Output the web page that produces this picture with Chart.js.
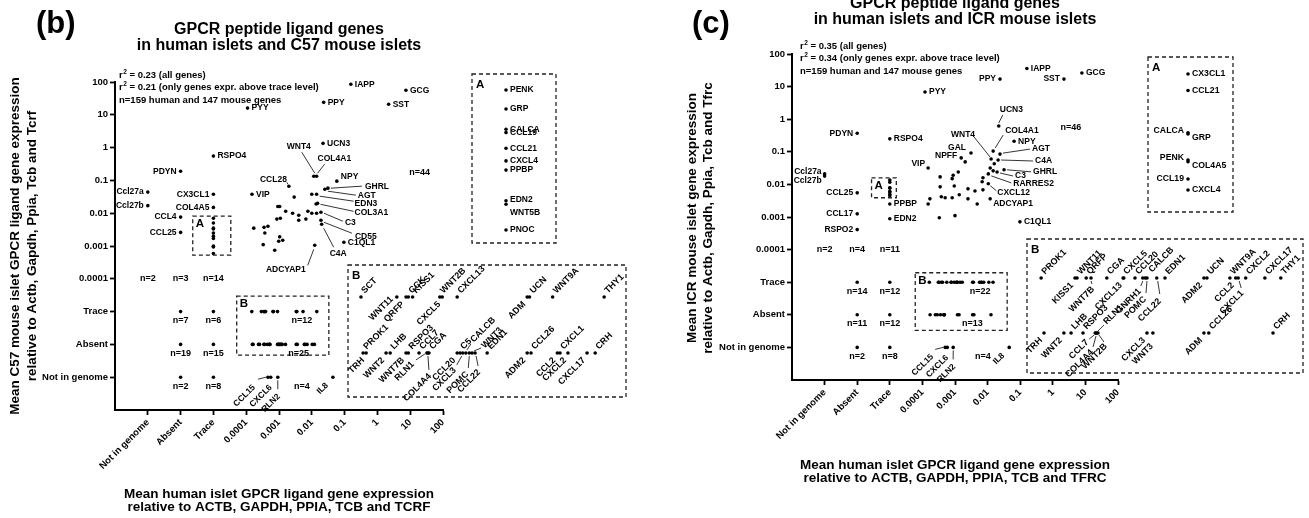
<!DOCTYPE html>
<html>
<head>
<meta charset="utf-8">
<title>GPCR peptide ligand genes in human and mouse islets</title>
<script src="https://cdn.jsdelivr.net/npm/chart.js@4.4.1/dist/chart.umd.min.js"></script>
<style>
  html, body { margin: 0; padding: 0; background: #fff; }
  #fig { position: relative; width: 1309px; height: 518px; overflow: hidden; background: #fff; }
  #fig canvas { position: absolute; left: 0; top: 0; }
</style>
</head>
<body>
<div id="fig">
  <canvas id="c57Main" width="1309" height="518"></canvas>
  <canvas id="c57InsetA" width="1309" height="518"></canvas>
  <canvas id="c57InsetB" width="1309" height="518"></canvas>
  <canvas id="icrMain" width="1309" height="518"></canvas>
  <canvas id="icrInsetA" width="1309" height="518"></canvas>
  <canvas id="icrInsetB" width="1309" height="518"></canvas>
</div>
<script>
// ---------------------------------------------------------------
// Shared axis: three categorical levels followed by log10 decades
// ---------------------------------------------------------------
const axisTickLabels = ['Not in genome', 'Absent', 'Trace', '0.0001', '0.001', '0.01', '0.1', '1', '10', '100'];
const categoryLevels = { 'Not in genome': 0, 'Absent': 1, 'Trace': 2 };
function axisPos(v) { return typeof v === 'string' ? categoryLevels[v] : 7 + Math.log10(v); }

// ---------------------------------------------------------------
// (b) human islets vs C57 mouse islets
// ---------------------------------------------------------------
const c57Genes = ['IAPP', 'GCG', 'PPY', 'SST', 'PYY', 'UCN3', 'RSPO4', 'PDYN', 'Ccl27a', 'Ccl27b',
  'CX3CL1', 'COL4A5', 'CCL4', 'CCL25', 'VIP', 'CCL28', 'WNT4', 'COL4A1', 'NPY', 'GHRL',
  'AGT', 'EDN3', 'COL3A1', 'C3', 'CD55', 'C4A', 'C1QL1', 'ADCYAP1', 'CCL15', 'CXCL6', 'RLN2', 'IL8'];
const c57Human = [0.155, 7.4, 0.023, 2.2, 1.1e-4, 0.022, 'Trace', 'Absent', 'Not in genome', 'Not in genome',
  'Trace', 'Trace', 'Absent', 'Absent', 1.5e-4, 0.002, 0.0115, 0.014, 0.058, 0.031,
  0.025, 0.014, 0.015, 0.019, 0.019, 0.02, 0.095, 0.0123, 4.6e-4, 5.6e-4, 9.2e-4, 0.044];
const c57Mouse = [85, 56, 24, 21, 16, 1.35, 0.55, 0.19, 0.044, 0.017,
  0.038, 0.015, 0.0076, 0.0026, 0.038, 0.066, 0.134, 0.134, 0.095, 0.058,
  0.054, 0.038, 0.02, 0.0107, 0.0061, 0.0046, 0.0013, 0.00105, 'Not in genome', 'Not in genome', 'Not in genome', 'Not in genome'];
// unlabelled genes of the central cluster
const c57OtherHuman = [0.01, 0.0135, 9.2e-4, 1.05e-3, 1.6e-3, 2.6e-3, 4e-3, 4e-3, 7.6e-3, 0.01, 0.014, 6.6e-3,
  8.6e-4, 1.1e-3, 1.7e-4, 3.5e-4, 4.6e-4, 3.7e-4, 1.05e-3, 1.3e-3, 9.8e-4, 3.3e-4, 7.4e-4, 2.9e-3];
const c57OtherMouse = [0.038, 0.019, 0.016, 0.016, 0.0115, 0.01, 0.0087, 0.0061, 0.0115, 0.01, 0.01, 0.0066,
  0.0066, 0.007, 0.0035, 0.0037, 0.004, 0.0025, 0.0019, 0.0015, 0.0014, 0.0011, 0.00074, 0.031];
// one marker per group of genes sharing a category in both species
const c57GroupHuman = ['Absent', 'Trace', 'Absent', 'Trace', 'Absent', 'Trace'];
const c57GroupMouse = ['Trace', 'Trace', 'Absent', 'Absent', 'Not in genome', 'Not in genome'];
const c57GroupN = [7, 6, 19, 15, 2, 8];
// gene counts written in the field
const c57CountHuman = ['Not in genome', 'Absent', 'Trace', 19.5, 5e-3, 4e-3, 5e-3];
const c57CountMouse = [1e-4, 1e-4, 1e-4, 0.18, 'Trace', 'Absent', 'Not in genome'];
const c57CountN = [2, 3, 14, 44, 12, 25, 4];
// box A: human trace level, mouse 0.0005-0.01
const c57BoxAGenes = ['PENK', 'GRP', 'CALCA', 'CCL19', 'CCL21', 'CXCL4', 'PPBP', 'EDN2', 'WNT5B', 'PNOC'];
const c57BoxAMouse = [0.007, 0.005, 0.0035, 0.0033, 0.0025, 0.002, 0.0017, 0.00099, 0.00093, 0.00059];
// box B: mouse trace / absent, human 0.0001-0.02
const c57BoxBGenes = ['SCT', 'WNT11', 'QRFP', 'CCK', 'KISS1', 'WNT2B', 'CXCL5', 'CXCL13', 'ADM', 'UCN', 'WNT9A', 'THY1',
  'PROK1', 'TRH', 'WNT2', 'LHB', 'WNT7B', 'RSPO3', 'CCL7', 'RLN1', 'COL4A4', 'CGA', 'CCL20', 'C5', 'CXCL3',
  'CALCB', 'POMC', 'WNT3', 'CCL22', 'EDN1', 'ADM2', 'CCL26', 'CCL2', 'CXCL1', 'CXCL2', 'CXCL17', 'CRH'];
const c57BoxBHuman = [1.48e-4, 2.9e-4, 3.45e-4, 3.6e-4, 3.9e-4, 6.5e-4, 6.8e-4, 9.0e-4, 3.35e-3, 3.5e-3, 5.4e-3, 0.0142,
  1.54e-4, 1.63e-4, 2.37e-4, 2.56e-4, 3.45e-4, 3.6e-4, 4.4e-4, 5.1e-4, 5.2e-4, 5.3e-4, 9.0e-4, 9.5e-4, 1.0e-3,
  1.06e-3, 1.13e-3, 1.19e-3, 1.26e-3, 1.58e-3, 3.35e-3, 3.6e-3, 5.9e-3, 6.2e-3, 7.2e-3, 0.0103, 0.012];
const c57BoxBMouse = [...Array(12).fill('Trace'), ...Array(25).fill('Absent')];
const c57R2 = [0.23, 0.21];

// ---------------------------------------------------------------
// (c) human islets vs ICR mouse islets
// ---------------------------------------------------------------
const icrGenes = ['IAPP', 'GCG', 'PPY', 'SST', 'PYY', 'UCN3', 'COL4A1', 'NPY', 'WNT4', 'GAL', 'NPFF', 'VIP',
  'AGT', 'C4A', 'GHRL', 'C3', 'RARRES2', 'CXCL12', 'ADCYAP1', 'C1QL1', 'PDYN', 'RSPO4', 'Ccl27a', 'Ccl27b',
  'CCL25', 'CCL17', 'RSPO2', 'PPBP', 'EDN2', 'CCL15', 'CXCL6', 'RLN2', 'IL8'];
const icrHuman = [0.16, 7.8, 0.024, 2.2, 1.2e-4, 0.022, 0.0148, 0.065, 0.0128, 3.1e-3, 1.55e-3, 1.5e-4,
  0.024, 0.021, 0.032, 0.0195, 0.0105, 0.0105, 0.012, 0.098, 'Absent', 'Trace', 'Not in genome', 'Not in genome',
  'Absent', 'Absent', 'Absent', 'Trace', 'Trace', 5e-4, 5.8e-4, 8.8e-4, 0.046];
const icrMouse = [36, 26, 17, 17, 6.8, 0.62, 0.105, 0.21, 0.06, 0.092, 0.065, 0.032,
  0.085, 0.056, 0.028, 0.024, 0.021, 0.0105, 3.6e-3, 7.1e-4, 0.37, 0.25, 0.021, 0.018,
  0.0055, 0.00125, 4.1e-4, 0.0025, 8.8e-4, 'Not in genome', 'Not in genome', 'Not in genome', 'Not in genome'];
const icrOtherHuman = [3.5e-4, 3.5e-4, 8.2e-4, 8.8e-4, 1.26e-3, 9.5e-4, 1.7e-4, 1.5e-4, 3.8e-4, 5e-4, 8.2e-4, 1.35e-3,
  2.5e-3, 4.8e-3, 3.3e-4, 1e-3, 4.1e-3, 2.5e-3, 7.2e-3, 7.2e-3, 0.0148, 0.016, 2.05e-3, 6.8e-3, 0.012];
const icrOtherMouse = [0.017, 8.4e-3, 0.015, 0.019, 0.024, 8.9e-3, 3.6e-3, 2.5e-3, 4.2e-3, 3.9e-3, 3.9e-3, 4.8e-3,
  3.6e-3, 2.5e-3, 9.5e-4, 1.1e-3, 6.3e-3, 7.3e-3, 6.8e-3, 0.016, 0.026, 0.043, 0.049, 0.012, 0.032];
const icrGroupHuman = ['Absent', 'Trace', 'Absent', 'Trace', 'Absent', 'Trace'];
const icrGroupMouse = ['Trace', 'Trace', 'Absent', 'Absent', 'Not in genome', 'Not in genome'];
const icrGroupN = [14, 12, 11, 12, 2, 8];
const icrCountHuman = ['Not in genome', 'Absent', 'Trace', 3.6, 5.9e-3, 3.4e-3, 7.2e-3];
const icrCountMouse = [1e-4, 1e-4, 1e-4, 0.57, 'Trace', 'Absent', 'Not in genome'];
const icrCountN = [2, 4, 11, 46, 22, 13, 4];
const icrBoxAGenes = ['CX3CL1', 'CCL21', 'CALCA', 'GRP', 'PENK', 'COL4A5', 'CCL19', 'CXCL4'];
const icrBoxAMouse = [0.0137, 0.0117, 0.0078, 0.0077, 0.006, 0.0059, 0.005, 0.0045];
const icrBoxBGenes = ['PROK1', 'KISS1', 'WNT11', 'QRFP', 'WNT7B', 'CGA', 'CXCL5', 'CXCL13', 'CCL20', 'GNRH1', 'CALCB',
  'POMC', 'CCL22', 'EDN1', 'ADM2', 'UCN', 'WNT9A', 'CCL2', 'CXCL1', 'CXCL2', 'CXCL17', 'THY1',
  'TRH', 'WNT2', 'LHB', 'RSPO3', 'CCL7', 'COL4A4', 'RLN1', 'WNT2B', 'CXCL3', 'WNT3', 'ADM', 'CCL26', 'CRH'];
const icrBoxBHuman = [1.63e-4, 3.08e-4, 3.2e-4, 3.8e-4, 4.16e-4, 5.6e-4, 7.6e-4, 7.7e-4, 9.5e-4, 1.1e-3, 1.15e-3,
  1.19e-3, 1.43e-3, 1.67e-3, 3.47e-3, 3.67e-3, 5.65e-3, 6.3e-3, 6.6e-3, 7.6e-3, 0.0109, 0.0147,
  1.72e-4, 2.5e-4, 2.86e-4, 3.58e-4, 4.5e-4, 4.57e-4, 4.65e-4, 4.74e-4, 1.19e-3, 1.33e-3, 3.47e-3, 3.8e-3, 0.0127];
const icrBoxBMouse = [...Array(22).fill('Trace'), ...Array(13).fill('Absent')];
const icrR2 = [0.35, 0.34];

const nHumanGenes = 159, nMouseGenes = 147;

// ---------------------------------------------------------------
// Drawing setup
// ---------------------------------------------------------------
const W = 1309, H = 518;
const FAM = '"Liberation Sans", Arial, Helvetica, sans-serif';
const bold = s => `bold ${s}px ${FAM}`;
Chart.defaults.font.family = FAM;
Chart.defaults.font.weight = 'bold';
Chart.defaults.color = '#000';

const dotStyle = { pointRadius: 1.8, pointHoverRadius: 1.8, pointBackgroundColor: '#000', pointBorderWidth: 0, showLine: false, clip: false };

// label placement around a marker
function drawTag(ctx, px, py, text, s) {
  s = s || {};
  const side = s.side || 'r';
  const def = { r: [4, 0, 'left', 0], l: [-4, 0, 'right', 0], up: [2, -5, 'left', -Math.PI / 4], down: [-3, 6, 'right', -Math.PI / 4] }[side];
  const ax = px + (s.dx ?? def[0]), ay = py + (s.dy ?? def[1]);
  if (s.lead) {
    ctx.beginPath(); ctx.lineWidth = 0.8;
    ctx.moveTo(px + s.lead[0], py + s.lead[1]); ctx.lineTo(px + s.lead[2], py + s.lead[3]); ctx.stroke();
  }
  ctx.save(); ctx.translate(ax, ay); ctx.rotate(def[3]);
  ctx.textAlign = s.align || def[2]; ctx.textBaseline = 'middle';
  ctx.fillText(text, 0, 0); ctx.restore();
}

function dashedRect(ctx, x0, y0, x1, y1) {
  ctx.save(); ctx.setLineDash([4, 3]); ctx.lineWidth = 1.3; ctx.strokeStyle = '#222';
  ctx.strokeRect(x0, y0, x1 - x0, y1 - y0); ctx.restore();
}

function statsLine(ctx, x, y, r2, rest) {
  ctx.textAlign = 'left'; ctx.textBaseline = 'alphabetic';
  ctx.font = bold(9.5); ctx.fillText('r', x, y);
  const w1 = ctx.measureText('r').width;
  ctx.font = bold(6.5); ctx.fillText('2', x + w1 + 0.5, y - 4);
  const w2 = ctx.measureText('2').width;
  ctx.font = bold(9.5); ctx.fillText(' = ' + r2 + ' ' + rest, x + w1 + w2 + 0.5, y);
}

function pts(xs, ys) { return xs.map((h, i) => ({ x: axisPos(h), y: axisPos(ys[i]) })); }

function mainPanel(id, P) {
  const a = P.frame;
  const tickFont = { family: FAM, size: 9.5, weight: 'bold' };
  const common = {
    type: 'linear', min: -1, max: 9,
    afterBuildTicks: s => { s.ticks = axisTickLabels.map((_, i) => ({ value: i })); },
    grid: { drawOnChartArea: false, drawTicks: true, tickLength: 5, tickWidth: 1.8, tickColor: '#000' },
    border: { display: true, color: '#000', width: 2 }
  };
  const decor = {
    id: 'decor_' + id,
    afterDraw(chart) {
      const { ctx, chartArea: ca, scales: { x, y } } = chart;
      const X = p => x.getPixelForValue(p), Y = p => y.getPixelForValue(p);
      const cx = (ca.left + ca.right) / 2;
      ctx.save();
      ctx.fillStyle = '#000'; ctx.strokeStyle = '#000';
      // panel letter and title
      ctx.font = bold(31); ctx.textAlign = 'left'; ctx.textBaseline = 'alphabetic';
      ctx.fillText(P.letter, P.letterAt[0], P.letterAt[1]);
      ctx.font = bold(16); ctx.textAlign = 'center';
      P.title.forEach((t, i) => ctx.fillText(t, cx, P.titleBase + i * 16));
      // correlation notes
      statsLine(ctx, P.statsAt[0], P.statsAt[1], P.r2[0].toFixed(2), '(all genes)');
      statsLine(ctx, P.statsAt[0], P.statsAt[1] + 12.5, P.r2[1].toFixed(2), '(only genes expr. above trace level)');
      ctx.font = bold(9.5);
      ctx.fillText('n=' + nHumanGenes + ' human and ' + nMouseGenes + ' mouse genes', P.statsAt[0], P.statsAt[1] + 25);
      // axis titles
      ctx.font = bold(13.5); ctx.textAlign = 'center'; ctx.textBaseline = 'middle';
      P.xTitle.forEach((t, i) => ctx.fillText(t, cx, P.xTitleMid + i * 13.5));
      P.yTitle.forEach((t, i) => {
        ctx.save(); ctx.translate(P.yTitleX[i], P.yTitleMid); ctx.rotate(-Math.PI / 2);
        ctx.fillText(t, 0, 0); ctx.restore();
      });
      // zoom boxes
      P.boxes.forEach(b => {
        const x0 = X(b.x[0]), x1 = X(b.x[1]), y0 = Y(b.y[1]), y1 = Y(b.y[0]);
        dashedRect(ctx, x0, y0, x1, y1);
        ctx.font = bold(11.5); ctx.textAlign = 'left'; ctx.textBaseline = 'middle';
        ctx.fillText(b.t, x0 + 3, y0 + 8);
      });
      // gene counts
      ctx.font = bold(9); ctx.textAlign = 'center'; ctx.textBaseline = 'middle';
      P.counts.h.forEach((h, i) => {
        const m = P.counts.m[i];
        ctx.fillText('n=' + P.counts.n[i], X(axisPos(h)), Y(axisPos(m)) + (typeof m === 'string' ? 9 : 0));
      });
      const gm = chart.getDatasetMeta(2).data;
      P.groupN.forEach((n, i) => ctx.fillText('n=' + n, gm[i].x, gm[i].y + 9));
      // gene names
      ctx.font = bold(8.5);
      const nm = chart.getDatasetMeta(0).data;
      P.genes.forEach((g, i) => drawTag(ctx, nm[i].x, nm[i].y, g, P.tags[g]));
      ctx.restore();
    }
  };
  return new Chart(document.getElementById(id), {
    type: 'scatter',
    data: {
      datasets: [
        { data: pts(P.human, P.mouse), ...dotStyle },
        { data: pts(P.otherHuman, P.otherMouse), ...dotStyle },
        { data: pts(P.groupHuman, P.groupMouse), ...dotStyle },
        { data: pts(P.boxAMouse.map(() => 'Trace'), P.boxAMouse), ...dotStyle },
        { data: pts(P.boxBHuman, P.boxBMouse), ...dotStyle }
      ]
    },
    options: {
      responsive: false, animation: false, events: [], devicePixelRatio: 1,
      layout: { padding: { left: 0, top: a.top, right: W - a.right, bottom: 0 } },
      plugins: { legend: { display: false }, tooltip: { enabled: false } },
      scales: {
        x: { ...common, position: 'bottom',
          ticks: { autoSkip: false, minRotation: 45, maxRotation: 45, padding: 2, font: tickFont, color: '#000', callback: v => axisTickLabels[v] },
          afterFit: s => { s.height = H - a.bottom; } },
        y: { ...common, position: 'left',
          ticks: { autoSkip: false, padding: 2, font: tickFont, color: '#000', callback: v => axisTickLabels[v] },
          afterFit: s => { s.width = a.left; } }
      }
    },
    plugins: [decor]
  });
}

function insetPanel(id, V, genes, human, mouse, tags) {
  const r = V.rect;
  const val = (type, v) => type === 'logarithmic' ? v : axisPos(v);
  const data = genes.map((g, i) => ({ x: val(V.x[0], human[i]), y: val(V.y[0], mouse[i]) }));
  const decor = {
    id: 'inset_' + id,
    afterDraw(chart) {
      const { ctx, chartArea: ca } = chart;
      ctx.save(); ctx.fillStyle = '#000'; ctx.strokeStyle = '#000';
      dashedRect(ctx, ca.left, ca.top, ca.right, ca.bottom);
      ctx.font = bold(11.5); ctx.textAlign = 'left'; ctx.textBaseline = 'middle';
      ctx.fillText(V.letter, ca.left + 4, ca.top + 11);
      ctx.font = bold(V.font);
      const el = chart.getDatasetMeta(0).data;
      genes.forEach((g, i) => drawTag(ctx, el[i].x, el[i].y, g, tags[g] || { side: V.side }));
      ctx.restore();
    }
  };
  return new Chart(document.getElementById(id), {
    type: 'scatter',
    data: { datasets: [{ data, ...dotStyle }] },
    options: {
      responsive: false, animation: false, events: [], devicePixelRatio: 1,
      layout: { padding: { left: r[0], top: r[1], right: W - r[2], bottom: H - r[3] } },
      plugins: { legend: { display: false }, tooltip: { enabled: false } },
      scales: {
        x: { type: V.x[0], display: false, min: V.x[1], max: V.x[2] },
        y: { type: V.y[0], display: false, min: V.y[1], max: V.y[2] }
      }
    },
    plugins: [decor]
  });
}

// ---------------------------------------------------------------
// label placement for each panel
// ---------------------------------------------------------------
const c57Tags = {
  NPY: { dy: -4 }, PDYN: { side: 'l' }, Ccl27a: { side: 'l' }, Ccl27b: { side: 'l' }, CX3CL1: { side: 'l' },
  COL4A5: { side: 'l' }, CCL4: { side: 'l' }, CCL25: { side: 'l' },
  CCL28: { dx: -2, dy: -7, align: 'right', lead: [-1, -2, -2, -4] },
  WNT4: { dx: -15, dy: -30, align: 'center', lead: [1, -3, -12, -24] },
  COL4A1: { dx: 1, dy: -18, lead: [1, -3, 8, -12] },
  GHRL: { dx: 37, dy: -2, lead: [3, 0, 34, -2] },
  AGT: { dx: 33, dy: 6, lead: [3, 2, 31, 6] },
  EDN3: { dx: 38, dy: 9, lead: [3, 2, 37, 7] },
  COL3A1: { dx: 37, dy: 9, lead: [3, 1, 36, 8] },
  C3: { dx: 24, dy: 10, lead: [3, 1, 22, 9] },
  CD55: { dx: 34, dy: 16, lead: [3, 2, 31, 13] },
  C4A: { dx: 8, dy: 29, lead: [2, 4, 12, 23] },
  ADCYAP1: { dx: -9, dy: 24, align: 'right', lead: [-1, 4, -7, 20] },
  CCL15: { side: 'down', dx: -14, dy: 9, lead: [-2, 0, -10, 2] },
  CXCL6: { side: 'down', dx: 0, dy: 9 },
  RLN2: { side: 'down', dx: 1, dy: 18, lead: [0, 3, 0, 12] },
  IL8: { side: 'down', dx: -6, dy: 7 }
};
const c57BoxATags = { EDN2: { dy: -1 }, WNT5B: { dy: 8 } };
const c57BoxBTags = {
  SCT: { side: 'up' }, WNT11: { side: 'down', dx: -5, dy: 1 }, QRFP: { side: 'down' }, CCK: { side: 'up' },
  KISS1: { side: 'up' }, WNT2B: { side: 'up' }, CXCL5: { side: 'down' }, CXCL13: { side: 'up' },
  ADM: { side: 'down' }, UCN: { side: 'up' }, WNT9A: { side: 'up' }, THY1: { side: 'up' },
  PROK1: { side: 'up' }, TRH: { side: 'down' }, WNT2: { side: 'down' }, LHB: { side: 'up' }, WNT7B: { side: 'down' },
  RSPO3: { side: 'up' }, CCL7: { side: 'up' },
  RLN1: { side: 'down', dx: -14, dy: 10, lead: [-2, 1, -11, 7] },
  COL4A4: { side: 'down', dx: 2, dy: 22, lead: [0, 3, 1, 17] },
  CGA: { side: 'up' }, CCL20: { side: 'down' }, C5: { side: 'up' },
  CXCL3: { side: 'down', dx: -8, dy: 16, lead: [-1, 3, -6, 12] },
  CALCB: { side: 'up', dx: 6, dy: -12, lead: [1, -3, 5, -9] },
  POMC: { side: 'down', dx: -2, dy: 20, lead: [0, 3, -1, 15] },
  WNT3: { side: 'up', dx: 11, dy: -6, lead: [2, -2, 9, -5] },
  CCL22: { side: 'down', dx: 4, dy: 18, lead: [1, 3, 3, 13] },
  EDN1: { side: 'up' }, ADM2: { side: 'down' }, CCL26: { side: 'up' }, CCL2: { side: 'down' },
  CXCL1: { side: 'up' }, CXCL2: { side: 'down' }, CXCL17: { side: 'down' }, CRH: { side: 'up' }
};

const icrTags = {
  PPY: { side: 'l' }, SST: { side: 'l' }, PDYN: { side: 'l' },
  VIP: { side: 'l', dx: -3, dy: -4 },
  Ccl27a: { side: 'l', dx: -3, dy: -2 }, Ccl27b: { side: 'l', dx: -3, dy: 5 },
  CCL25: { side: 'l' }, CCL17: { side: 'l' }, RSPO2: { side: 'l' },
  UCN3: { dx: 1, dy: -16, lead: [0, -3, 4, -11] },
  COL4A1: { dx: 12, dy: -20, lead: [2, -3, 10, -16] },
  WNT4: { dx: -16, dy: -24, align: 'right', lead: [-1, -2, -17, -22] },
  GAL: { side: 'l', dx: -5, dy: -5 },
  NPFF: { side: 'l', dx: -4, dy: -2 },
  AGT: { dx: 32, dy: -5, lead: [3, -1, 30, -5] },
  C4A: { dx: 37, dy: 1, lead: [3, 0, 35, 1] },
  GHRL: { dx: 29, dy: 2, lead: [3, 0, 27, 2] },
  C3: { dx: 18, dy: 4, lead: [3, 1, 16, 4] },
  RARRES2: { dx: 25, dy: 10, lead: [3, 2, 23, 9] },
  CXCL12: { dx: 9, dy: 9, lead: [2, 2, 8, 7] },
  ADCYAP1: { dx: 3, dy: 5 },
  CCL15: { side: 'down', dx: -13, dy: 8, lead: [-2, 0, -10, 2] },
  CXCL6: { side: 'down', dx: 0, dy: 9 },
  RLN2: { side: 'down', dx: 1, dy: 18, lead: [0, 3, 0, 12] },
  IL8: { side: 'down', dx: -6, dy: 7 }
};
const icrBoxATags = {
  CALCA: { side: 'l', dy: -2 }, GRP: { dy: 4 }, PENK: { side: 'l', dy: -2 }, COL4A5: { dy: 4 }, CCL19: { side: 'l' }
};
const icrBoxBTags = {
  PROK1: { side: 'up' }, KISS1: { side: 'down' }, WNT11: { side: 'up' }, QRFP: { side: 'up' },
  WNT7B: { side: 'down', dx: 2, dy: 10, lead: [0, 3, 1, 6] },
  CGA: { side: 'up' }, CXCL5: { side: 'up' }, CXCL13: { side: 'down' }, CCL20: { side: 'up' },
  GNRH1: { side: 'down', dx: -3, dy: 12, lead: [0, 3, -2, 8] },
  CALCB: { side: 'up', dx: 5, dy: -7 },
  POMC: { side: 'down', dx: -2, dy: 20, lead: [0, 3, -1, 15] },
  CCL22: { side: 'down', dx: 3, dy: 22, lead: [1, 3, 3, 16] },
  EDN1: { side: 'up' }, ADM2: { side: 'down' }, UCN: { side: 'up' }, WNT9A: { side: 'up' },
  CCL2: { side: 'down' }, CXCL1: { side: 'down', dx: 4, dy: 14, lead: [1, 3, 3, 10] },
  CXCL2: { side: 'up' }, CXCL17: { side: 'up' }, THY1: { side: 'up' },
  TRH: { side: 'down' }, WNT2: { side: 'down' }, LHB: { side: 'up' }, RSPO3: { side: 'up' },
  CCL7: { side: 'down', dx: -8, dy: 8, lead: [-1, 2, -6, 6] },
  COL4A4: { side: 'down', dx: -4, dy: 18, lead: [0, 3, -3, 14] },
  RLN1: { side: 'up', dx: 8, dy: -10, lead: [1, -2, 7, -8] },
  WNT2B: { side: 'down', dx: 8, dy: 12, lead: [1, 2, 6, 9] },
  CXCL3: { side: 'down' }, WNT3: { side: 'down', dx: -1, dy: 12 },
  ADM: { side: 'down' }, CCL26: { side: 'up' }, CRH: { side: 'up' }
};

// ---------------------------------------------------------------
// build the two panels and their enlarged boxes
// ---------------------------------------------------------------
mainPanel('c57Main', {
  frame: { left: 115, top: 82, right: 443, bottom: 410 },
  letter: '(b)', letterAt: [36, 33],
  title: ['GPCR peptide ligand genes', 'in human islets and C57 mouse islets'], titleBase: 34,
  statsAt: [119, 77.5], r2: c57R2,
  yTitle: ['Mean C57 mouse islet GPCR ligand gene expression', 'relative to Actb, Gapdh, Ppia, Tcb and Tcrf'],
  yTitleX: [15, 32], yTitleMid: 246,
  xTitle: ['Mean human islet GPCR ligand gene expression', 'relative to ACTB, GAPDH, PPIA, TCB and TCRF'],
  xTitleMid: 494,
  boxes: [{ t: 'A', x: [1.37, 2.53], y: [3.72, 4.91] }, { t: 'B', x: [2.71, 5.52], y: [0.67, 2.47] }],
  genes: c57Genes, human: c57Human, mouse: c57Mouse, tags: c57Tags,
  otherHuman: c57OtherHuman, otherMouse: c57OtherMouse,
  groupHuman: c57GroupHuman, groupMouse: c57GroupMouse, groupN: c57GroupN,
  counts: { h: c57CountHuman, m: c57CountMouse, n: c57CountN },
  boxAMouse: c57BoxAMouse, boxBHuman: c57BoxBHuman, boxBMouse: c57BoxBMouse
});
insetPanel('c57InsetA', { rect: [472, 74, 556, 243], x: ['linear', 1, 3.47], y: ['logarithmic', 4.69e-4, 9.29e-3], letter: 'A', font: 8.5, side: 'r' },
  c57BoxAGenes, c57BoxAGenes.map(() => 'Trace'), c57BoxAMouse, c57BoxATags);
insetPanel('c57InsetB', { rect: [348, 265, 626, 397], x: ['logarithmic', 1.16e-4, 0.0214], y: ['linear', 0.214, 2.571], letter: 'B', font: 9, side: 'up' },
  c57BoxBGenes, c57BoxBHuman, c57BoxBMouse, c57BoxBTags);

mainPanel('icrMain', {
  frame: { left: 792, top: 54, right: 1118, bottom: 380 },
  letter: '(c)', letterAt: [692, 33],
  title: ['GPCR peptide ligand genes', 'in human islets and ICR mouse islets'], titleBase: 8,
  statsAt: [800, 48.5], r2: icrR2,
  yTitle: ['Mean ICR mouse islet gene expression', 'relative to Actb, Gapdh, Ppia, Tcb and Tfrc'],
  yTitleX: [692, 708], yTitleMid: 218,
  xTitle: ['Mean human islet GPCR ligand gene expression', 'relative to ACTB, GAPDH, PPIA, TCB and TFRC'],
  xTitleMid: 465,
  boxes: [{ t: 'A', x: [1.44, 2.2], y: [4.59, 5.2] }, { t: 'B', x: [2.78, 5.6], y: [0.52, 2.29] }],
  genes: icrGenes, human: icrHuman, mouse: icrMouse, tags: icrTags,
  otherHuman: icrOtherHuman, otherMouse: icrOtherMouse,
  groupHuman: icrGroupHuman, groupMouse: icrGroupMouse, groupN: icrGroupN,
  counts: { h: icrCountHuman, m: icrCountMouse, n: icrCountN },
  boxAMouse: icrBoxAMouse, boxBHuman: icrBoxBHuman, boxBMouse: icrBoxBMouse
});
insetPanel('icrInsetA', { rect: [1148, 57, 1233, 212], x: ['linear', 1, 3.125], y: ['logarithmic', 3.64e-3, 0.01614], letter: 'A', font: 8.7, side: 'r' },
  icrBoxAGenes, icrBoxAGenes.map(() => 'Trace'), icrBoxAMouse, icrBoxATags);
insetPanel('icrInsetB', { rect: [1027, 239, 1303, 373], x: ['logarithmic', 1.25e-4, 0.0223], y: ['linear', 0.273, 2.709], letter: 'B', font: 9, side: 'up' },
  icrBoxBGenes, icrBoxBHuman, icrBoxBMouse, icrBoxBTags);
</script>
</body>
</html>
